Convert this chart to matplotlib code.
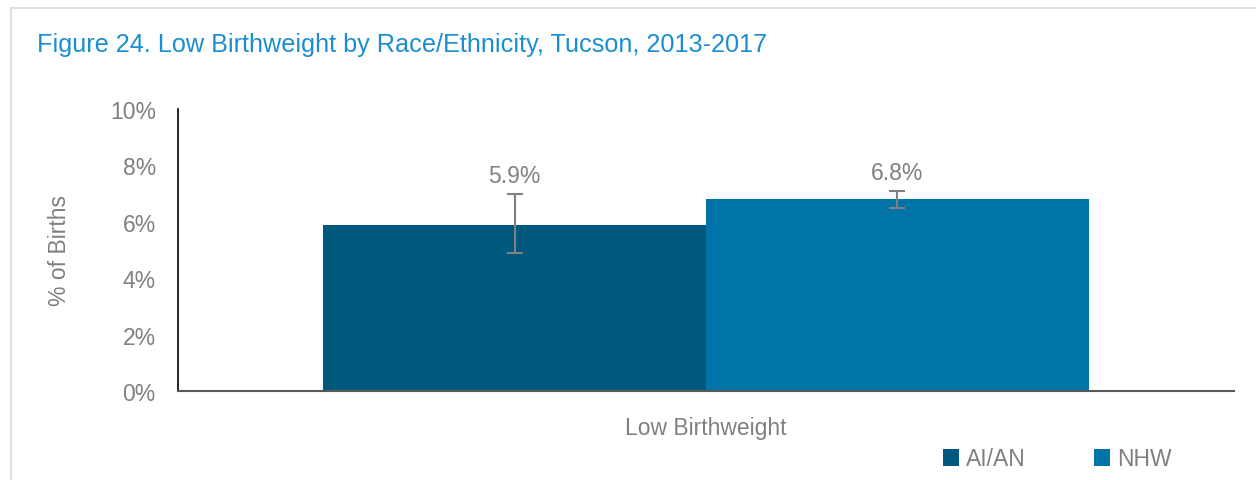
import matplotlib.pyplot as plt
import matplotlib.font_manager as fm
from matplotlib.lines import Line2D

# ---------------- DATA ----------------
category = "Low Birthweight"
groups = ["AI/AN", "NHW"]
values = [5.9, 6.8]
err_low = [4.9, 6.5]
err_high = [7.0, 7.1]
labels = ["5.9%", "6.8%"]
yticks = [0, 2, 4, 6, 8, 10]

colors = ["#00587c", "#0073a8"]
gray = "#808080"

# ---------------- FONT ----------------
names = {f.name for f in fm.fontManager.ttflist}
font = "Liberation Sans Narrow" if "Liberation Sans Narrow" in names else "Liberation Sans"
plt.rcParams["font.family"] = [font, "DejaVu Sans"]

# ---------------- PLOT ----------------
fig = plt.figure(figsize=(12.56, 4.81), dpi=100)
ax = fig.add_axes([178 / 1256, 1 - 392 / 481, (1234 - 178) / 1256, 282 / 481])

width = 0.3625
offsets = [-width / 2, width / 2]
for i, g in enumerate(groups):
    x = offsets[i]
    ax.bar(x, values[i], width=width, color=colors[i], label=g, zorder=2)
    ax.errorbar(x, values[i],
                yerr=[[values[i] - err_low[i]], [err_high[i] - values[i]]],
                fmt="none", ecolor=gray, elinewidth=1.5, capsize=6,
                capthick=1.5, zorder=3)
    ax.text(x, err_high[i] + 0.25, labels[i], ha="center", va="bottom",
            fontsize=16.5, color=gray)

ax.set_xlim(-0.5, 0.5)
ax.set_ylim(0, 10)
ax.set_yticks(yticks)
ax.set_yticklabels([f"{t}%" for t in yticks], fontsize=16.5, color=gray)
ax.set_xticks([0])
ax.set_xticklabels([category], fontsize=16.5, color=gray)
ax.tick_params(axis="y", length=0, pad=16)
ax.tick_params(axis="x", length=0, pad=18)

ax.set_ylabel("% of Births", fontsize=16.5, color=gray, labelpad=28)

for s in ["top", "right"]:
    ax.spines[s].set_visible(False)
ax.spines["left"].set_color("black")
ax.spines["left"].set_linewidth(1.2)
ax.spines["bottom"].set_color("#595959")
ax.spines["bottom"].set_linewidth(1.5)

# title
fig.text(37 / 1256, 1 - 45 / 481, "Figure 24. Low Birthweight by Race/Ethnicity, Tucson, 2013-2017",
         fontsize=18.2, color="#1a8ed0", ha="left", va="center")

# light frame
fig.add_artist(Line2D([11 / 1256, 11 / 1256], [0, 1 - 9 / 481], color="#e0e0e0", lw=1.5,
                      transform=fig.transFigure))
fig.add_artist(Line2D([11 / 1256, 1], [1 - 9 / 481, 1 - 9 / 481], color="#e0e0e0", lw=1.5,
                      transform=fig.transFigure))

# legend
ax.legend(loc="center left", bbox_to_anchor=(943 / 1256, 1 - 460 / 481),
          bbox_transform=fig.transFigure, ncol=2, frameon=False,
          fontsize=16.5, labelcolor=gray, handlelength=0.7, handleheight=0.7,
          handletextpad=0.3, columnspacing=3.0, borderaxespad=0, borderpad=0)

fig.savefig("out.png", dpi=100)
